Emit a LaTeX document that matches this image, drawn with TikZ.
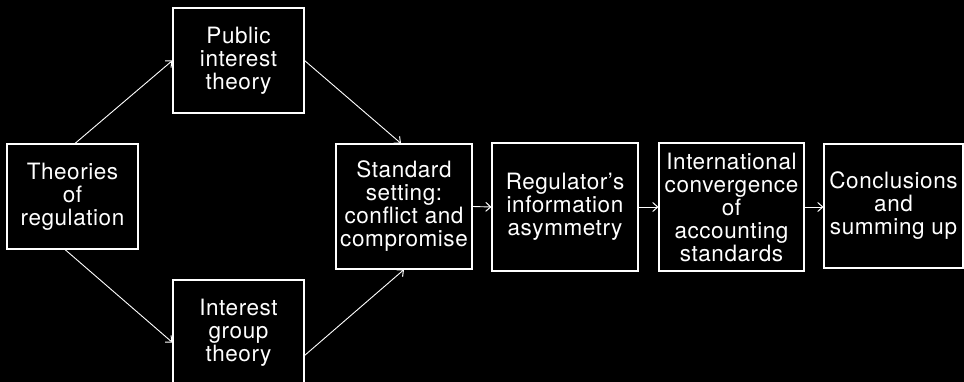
\documentclass[tikz,border=0pt]{standalone}
\usepackage{fontspec}
\setmainfont[LetterSpace=2.5]{TeX Gyre Heros}
\usetikzlibrary{arrows.meta,calc}
\begin{document}
\begin{tikzpicture}[x=1pt,y=-1pt,
  box/.style={draw=white,line width=1.1pt,fill=black,text=white,align=center,
    inner sep=0pt,font=\fontsize{22.5}{23}\selectfont},
  link/.style={draw=white,line width=0.9pt,-{Straight Barb[length=5pt,width=9pt,line width=1pt]}}]
  % page and background
  \fill[black] (0,0) rectangle (964,382);
  \useasboundingbox (0,0) rectangle (964,382);

  % boxes
  \node[box,minimum width=131pt,minimum height=105pt] (tr) at (72.5,196.5) {Theories\\of\\regulation};
  \node[box,minimum width=131pt,minimum height=105pt] (pi) at (238.5,60.5) {Public\\interest\\theory};
  \node[box,minimum width=131pt,minimum height=105pt] (ig) at (238.5,332.5) {Interest\\group\\theory};
  \node[box,minimum width=136pt,minimum height=125pt] (ss) at (404,206.5) {Standard\\setting:\\conflict and\\compromise};
  \node[box,minimum width=146pt,minimum height=128pt] (ri) at (565,207) {Regulator’s\\information\\asymmetry};
  \node[box,minimum width=145pt,minimum height=128pt] (ic) at (731.5,207) {International\\convergence\\of\\accounting\\standards};
  \node[box,minimum width=139pt,minimum height=124pt] (cs) at (893.5,206) {Conclusions\\and\\summing up};

  % connectors
  \draw[link] ($(tr.north)+(2.5,0)$) -- (pi.west);
  \draw[link] (pi.east) -- ($(ss.north)+(-3,0)$);
  \draw[link] ($(tr.south)+(-7.5,0)$) -- ($(ig.west)+(0,10)$);
  \draw[link] ($(ig.east)+(0,23)$) -- (ss.south);
  \draw[link] (ss.east) -- (ri.west);
  \draw[link] (ri.east) -- (ic.west);
  \draw[link] (ic.east) -- (ic.east -| cs.west);
\end{tikzpicture}
\end{document}
